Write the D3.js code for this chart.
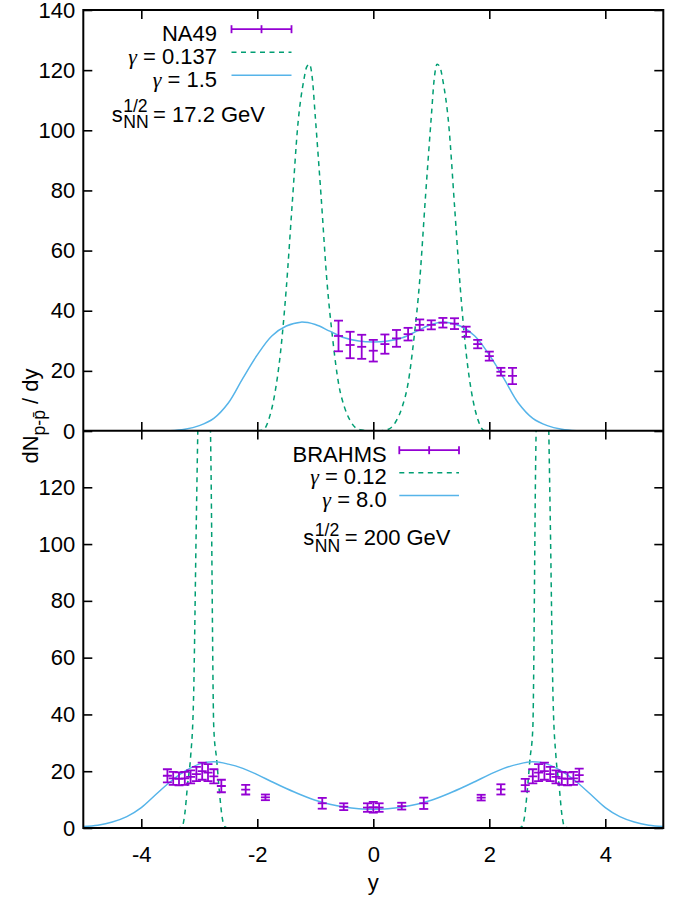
<!DOCTYPE html>
<html>
<head>
<meta charset="utf-8">
<script src="https://cdn.jsdelivr.net/npm/d3@7"></script>
<style>
  body { margin: 0; background: #fff; }
  svg { display: block; }
</style>
</head>
<body>
<svg id="chart" width="683" height="901"></svg>
<script>
// 刻度
const xTicks = [-4, -2, 0, 2, 4];
const yTicksTop = [0, 20, 40, 60, 80, 100, 120, 140];
const yTicksBottom = [0, 20, 40, 60, 80, 100, 120];

// NA49 (17.2 GeV)
const na49Y   = [-0.6, -0.4, -0.2, 0, 0.2, 0.4, 0.6, 0.8, 1.0, 1.2, 1.4, 1.6, 1.8, 2.0, 2.2, 2.4];
const na49Val = [31.6, 28.6, 28.0, 26.7, 28.9, 30.8, 32.2, 35.3, 35.3, 36.0, 35.7, 33.0, 28.9, 24.9, 19.7, 18.3];
const na49Err = [5.1, 4.4, 4.0, 3.6, 3.2, 2.8, 2.1, 1.8, 1.5, 1.6, 1.8, 1.7, 1.4, 1.5, 1.3, 2.7];

// gamma = 0.137
const topGreenX = [-2.0, -1.9, -1.8, -1.7, -1.6, -1.5, -1.4, -1.3, -1.2, -1.15, -1.1, -1.05, -1.0, -0.9, -0.8, -0.7, -0.6, -0.5, -0.4, -0.3, -0.2, -0.1, 0,
                   0.1, 0.2, 0.3, 0.4, 0.5, 0.6, 0.7, 0.8, 0.9, 1.0, 1.05, 1.1, 1.15, 1.2, 1.3, 1.4, 1.5, 1.6, 1.7, 1.8, 1.9, 2.0];
const topGreenY = [0, 0.3, 4, 12.2, 26.1, 47.5, 75, 102, 116.5, 121, 122, 117, 104.5, 78, 50, 30.6, 15.9, 8.1, 3.5, 1.0, 0.3, 0.05, 0,
                   0.05, 0.3, 1.0, 3.5, 8.1, 15.9, 30.6, 50, 78, 104.5, 117, 122, 121, 116.5, 102, 75, 47.5, 26.1, 12.2, 4, 0.3, 0];

// gamma = 1.5
const topBlueX = [-3.75, -3.5, -3.25, -3.0, -2.75, -2.5, -2.25, -2.0, -1.75, -1.5, -1.25, -1.0, -0.75, -0.5, -0.25, 0,
                  0.25, 0.5, 0.75, 1.0, 1.25, 1.5, 1.75, 2.0, 2.25, 2.5, 2.75, 3.0, 3.25, 3.5, 3.75];
const topBlueY = [0, 0.1, 0.6, 1.8, 4.2, 9.3, 17.5, 25.3, 31.6, 34.9, 36.2, 35.4, 33.2, 31.0, 29.9, 29.6,
                  29.9, 31.0, 33.2, 35.4, 36.2, 34.9, 31.6, 25.3, 17.5, 9.3, 4.2, 1.8, 0.6, 0.1, 0];

// BRAHMS (200 GeV)
const brahmsY   = [-3.55, -3.45, -3.35, -3.25, -3.15, -3.05, -2.95, -2.85, -2.75, -2.62, -2.2, -1.86, -0.88, -0.51, -0.1, 0, 0.1, 0.49, 0.87,
                   1.86, 2.2, 2.62, 2.75, 2.85, 2.95, 3.05, 3.15, 3.25, 3.35, 3.45, 3.55];
const brahmsVal = [18.4, 17.5, 17.3, 17.5, 18.0, 19.0, 20.0, 19.5, 18.2, 14.8, 13.5, 10.8, 8.7, 7.5, 7.2, 7.3, 7.2, 7.7, 8.7,
                   10.7, 13.6, 15.1, 18.2, 19.5, 20.0, 19.0, 18.0, 17.5, 17.3, 17.5, 18.6];
const brahmsErr = [2.3, 2.3, 2.3, 2.3, 2.3, 2.5, 3.0, 3.0, 2.5, 2.2, 1.7, 1.0, 1.9, 1.2, 1.5, 1.9, 1.5, 1.2, 2.0,
                   1.0, 1.8, 2.2, 2.5, 3.0, 3.0, 2.5, 2.3, 2.3, 2.3, 2.3, 2.3];

// gamma = 0.12
const botGreenX = [-3.4, -3.3, -3.25, -3.2, -3.15, -3.1, -3.05, -3.0, -2.95, -2.9, -2.85, -2.8, -2.75, -2.7, -2.65, -2.6, -2.55, -2.5,
                   2.5, 2.55, 2.6, 2.65, 2.7, 2.75, 2.8, 2.85, 2.9, 2.95, 3.0, 3.05, 3.1, 3.15, 3.2, 3.25, 3.3, 3.4];
const botGreenY = [0, 0.3, 5, 15.7, 25, 45, 110, 170, 220, 230, 185, 130, 35, 24, 12, 3, 0.3, 0,
                   0, 0.3, 3, 12, 24, 35, 130, 185, 230, 220, 170, 110, 45, 25, 15.7, 5, 0.3, 0];

// gamma = 8.0
const botBlueX = [-5, -4.75, -4.5, -4.25, -4, -3.75, -3.5, -3.25, -3, -2.75, -2.5, -2.25, -2, -1.75, -1.5, -1.25, -1, -0.75, -0.5, -0.25, 0,
                  0.25, 0.5, 0.75, 1, 1.25, 1.5, 1.75, 2, 2.25, 2.5, 2.75, 3, 3.25, 3.5, 3.75, 4, 4.25, 4.5, 4.75, 5];
const botBlueY = [0.5, 1.0, 2.1, 4.0, 7.2, 11.8, 16.3, 20.0, 22.5, 23.3, 22.5, 21.0, 18.8, 16.3, 13.9, 11.7, 9.8, 8.4, 7.4, 6.8, 6.6,
                  6.8, 7.4, 8.4, 9.8, 11.7, 13.9, 16.3, 18.8, 21.0, 22.5, 23.3, 22.5, 20.0, 16.3, 11.8, 7.2, 4.0, 2.1, 1.0, 0.5];

const FONT = '"Liberation Sans", Arial, Helvetica, sans-serif';
const PURPLE = "#9400d3", GREEN = "#009e73", BLUE = "#56b4e9";
const DASH = "5,4.5";
const fmt = d => String(d);   // 用一般減號 "-4"

const svg = d3.select("#chart").attr("font-family", FONT);

const x = d3.scaleLinear().domain([-5, 5]).range([83.3, 663.3]);
const yTop = d3.scaleLinear().domain([0, 140]).range([431, 10]);
const yBot = d3.scaleLinear().domain([0, 140]).range([828, 430.5]);

// 裁剪區
const defs = svg.append("defs");
defs.append("clipPath").attr("id", "clipTop").append("rect")
    .attr("x", x(-5)).attr("y", yTop(140)).attr("width", x(5) - x(-5)).attr("height", yTop(0) - yTop(140));
defs.append("clipPath").attr("id", "clipBot").append("rect")
    .attr("x", x(-5)).attr("y", yBot(140)).attr("width", x(5) - x(-5)).attr("height", yBot(0) - yBot(140));

function drawCurve(g, xs, ys, yScale, color, dashed, curve) {
    const pts = xs.map((d, i) => [d, ys[i]]);
    g.append("path")
        .datum(pts)
        .attr("fill", "none")
        .attr("stroke", color)
        .attr("stroke-width", 1.5)
        .attr("stroke-dasharray", dashed ? DASH : null)
        .attr("d", d3.line()
            .x(d => x(d[0]))
            .y(d => yScale(d[1]))
            .curve(curve));
}

function drawErrorBars(g, xs, vals, errs, yScale) {
    const w = 4.5;
    const pts = xs.map((d, i) => ({ x: d, v: vals[i], e: errs[i] }));
    const eg = g.append("g").attr("stroke", PURPLE).attr("stroke-width", 1.8).attr("fill", "none");
    const sel = eg.selectAll("g").data(pts).enter().append("g");
    sel.append("line")
        .attr("x1", d => x(d.x)).attr("x2", d => x(d.x))
        .attr("y1", d => yScale(d.v - d.e)).attr("y2", d => yScale(d.v + d.e));
    [d => d.v - d.e, d => d.v + d.e, d => d.v].forEach(fy => {
        sel.append("line")
            .attr("x1", d => x(d.x) - w).attr("x2", d => x(d.x) + w)
            .attr("y1", d => yScale(fy(d))).attr("y2", d => yScale(fy(d)));
    });
}

// 上圖
const gTop = svg.append("g").attr("clip-path", "url(#clipTop)");
drawCurve(gTop, topGreenX, topGreenY, yTop, GREEN, true, d3.curveMonotoneX);
drawCurve(gTop, topBlueX, topBlueY, yTop, BLUE, false, d3.curveCatmullRom.alpha(0.5));
drawErrorBars(gTop, na49Y, na49Val, na49Err, yTop);

// 下圖
const gBot = svg.append("g").attr("clip-path", "url(#clipBot)");
drawCurve(gBot, botGreenX, botGreenY, yBot, GREEN, true, d3.curveMonotoneX);
drawCurve(gBot, botBlueX, botBlueY, yBot, BLUE, false, d3.curveCatmullRom.alpha(0.5));
drawErrorBars(gBot, brahmsY, brahmsVal, brahmsErr, yBot);

// 軸
function styleAxis(g) {
    g.select(".domain").remove();
    g.attr("font-family", FONT).attr("font-size", 22);
    g.selectAll(".tick line").attr("stroke", "#000").attr("stroke-width", 1.6);
    g.selectAll(".tick text").attr("fill", "#000");
}

function drawAxes(yScale, yTicks, showXLabels) {
    const [y0, y1] = yScale.range();
    svg.append("g").attr("transform", `translate(${x(-5)},0)`)
        .call(d3.axisLeft(yScale).tickValues(yTicks).tickSize(-9).tickPadding(8).tickFormat(fmt))
        .call(styleAxis);
    svg.append("g").attr("transform", `translate(${x(5)},0)`)
        .call(d3.axisRight(yScale).tickValues(yTicks).tickSize(-9).tickFormat(""))
        .call(styleAxis);
    svg.append("g").attr("transform", `translate(0,${y1})`)
        .call(d3.axisTop(x).tickValues(xTicks).tickSize(-9).tickFormat(""))
        .call(styleAxis);
    svg.append("g").attr("transform", `translate(0,${y0})`)
        .call(d3.axisBottom(x).tickValues(xTicks).tickSize(-9).tickPadding(18)
            .tickFormat(showXLabels ? fmt : ""))
        .call(styleAxis);
}
drawAxes(yTop, yTicksTop, false);
drawAxes(yBot, yTicksBottom, true);

// 邊框
svg.append("rect")
    .attr("x", x(-5)).attr("y", yTop(140))
    .attr("width", x(5) - x(-5)).attr("height", yBot(0) - yTop(140))
    .attr("fill", "none").attr("stroke", "#000").attr("stroke-width", 2);
svg.append("line")
    .attr("x1", x(-5)).attr("x2", x(5))
    .attr("y1", 430.75).attr("y2", 430.75)
    .attr("stroke", "#000").attr("stroke-width", 2);

// 軸標題
const yl = svg.append("text")
    .attr("transform", "translate(38,416) rotate(-90)")
    .attr("text-anchor", "middle")
    .attr("font-size", 22)
    .attr("fill", "#000");
yl.append("tspan").text("dN");
yl.append("tspan").attr("font-size", 17.6).attr("dy", 7).text("p-p\u0304");
yl.append("tspan").attr("dy", -7).text(" / dy");

svg.append("text")
    .attr("x", x(0)).attr("y", 890)
    .attr("text-anchor", "middle")
    .attr("font-size", 22)
    .text("y");

// 圖例
function legend(textRight, lineX0, lineX1, baselines, labels) {
    labels.forEach((lab, i) => {
        const b = baselines[i];
        const t = svg.append("text")
            .attr("x", textRight).attr("y", b)
            .attr("text-anchor", "end")
            .attr("font-size", 22);
        if (lab.gamma) {
            t.append("tspan").attr("font-family", '"Liberation Serif", "DejaVu Serif", serif')
                .attr("font-style", "italic").text("\u03b3");
            t.append("tspan").text(" = " + lab.text);
        } else {
            t.text(lab.text);
        }
        const ly = b - 11.5;
        if (lab.type === "err") {
            const g = svg.append("g").attr("stroke", PURPLE).attr("stroke-width", 1.8);
            const mid = (lineX0 + lineX1) / 2;
            g.append("line").attr("x1", lineX0).attr("x2", lineX1).attr("y1", ly).attr("y2", ly);
            [lineX0, mid, lineX1].forEach(xx => {
                g.append("line").attr("x1", xx).attr("x2", xx).attr("y1", ly - 4).attr("y2", ly + 4);
            });
        } else {
            svg.append("line")
                .attr("x1", lineX0).attr("x2", lineX1).attr("y1", ly).attr("y2", ly)
                .attr("stroke", lab.type === "dash" ? GREEN : BLUE)
                .attr("stroke-width", 1.5)
                .attr("stroke-dasharray", lab.type === "dash" ? DASH : null);
        }
    });
}

legend(217, 231.5, 291.5, [40.7, 63.7, 86.7], [
    { text: "NA49", type: "err" },
    { text: "0.137", type: "dash", gamma: true },
    { text: "1.5", type: "solid", gamma: true }
]);
legend(386.7, 399.3, 459, [461.7, 484.3, 507], [
    { text: "BRAHMS", type: "err" },
    { text: "0.12", type: "dash", gamma: true },
    { text: "8.0", type: "solid", gamma: true }
]);

// s_NN^1/2 (一個 text，上下標疊在同一位置)
function sqrtS(x0, base, rest) {
    const t = svg.append("text").attr("font-size", 22);
    const s = t.append("tspan").attr("x", x0).attr("y", base).text("s");
    const ws = s.node().getComputedTextLength();
    const sup = t.append("tspan").attr("x", x0 + ws + 0.5).attr("y", base - 9.5).attr("font-size", 17.6).text("1/2");
    const sub = t.append("tspan").attr("x", x0 + ws + 0.5).attr("y", base + 6.5).attr("font-size", 17.6).text("NN");
    const wm = Math.max(sup.node().getComputedTextLength(), sub.node().getComputedTextLength());
    t.append("tspan").attr("x", x0 + ws + wm + 5).attr("y", base).text(rest);
}
sqrtS(111.7, 121.5, "= 17.2 GeV");
sqrtS(303.3, 545, "= 200 GeV");
</script>
</body>
</html>
